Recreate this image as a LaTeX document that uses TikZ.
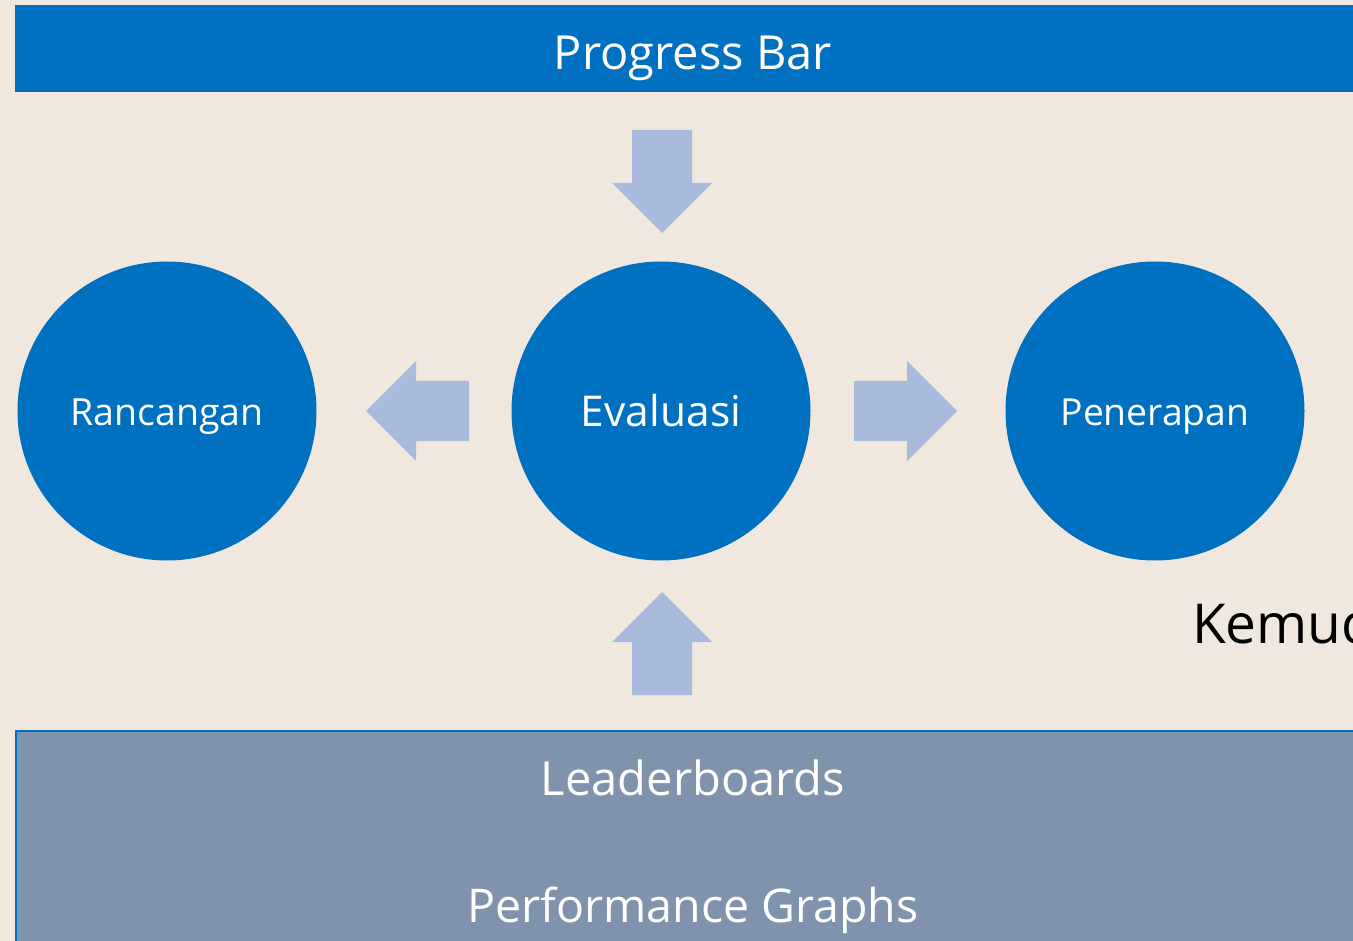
\documentclass[tikz,border=0pt]{standalone}
\usepackage{fontspec}
\setmainfont{Open Sans}
\usepackage{tikz}
\definecolor{bgbeige}{HTML}{F0E8DF}
\definecolor{mainblue}{HTML}{0070C0}
\definecolor{paleblue}{HTML}{A9BBDC}
\definecolor{slateblue}{HTML}{8093AC}
\tikzset{
stage/.style={
  circle,
  fill=mainblue,
  minimum size=299pt,
  inner sep=0pt
},
stagetext/.style={anchor=base,inner sep=0pt,text=white,font=\fontsize{37.5}{44}\selectfont},
bartext/.style={anchor=base,inner sep=0pt,text=white,font=\fontsize{47}{56}\selectfont},
blockarrow/.style={fill=paleblue}
}
\begin{document}
\begin{tikzpicture}[x=1pt,y=-1pt]
\useasboundingbox (0,0) rectangle (1353,941);
\clip (0,0) rectangle (1353,941);
\fill[bgbeige] (0,0) rectangle (1353,941);
% top and bottom bars
\fill[mainblue] (15,5) rectangle (1400,92);
\node[bartext] (bar) at (693,70) {Progress Bar};
\draw[mainblue,line width=2pt,fill=slateblue] (16,731) rectangle (1400,1000);
\node[bartext] (lead) at (693,795) {Leaderboards};
\node[bartext,font=\fontsize{46.5}{56}\selectfont] (perf) at (693,922) {Performance Graphs};
% the three stages
\node[stage] (ranc) at (167,411) {};
\node[stage] (eval) at (661,411) {};
\node[stage] (pene) at (1155,411) {};
\node[stagetext] (ranctext) at (ranc.center) [yshift=-14pt] {Rancangan};
\node[stagetext,font=\fontsize{42.5}{50}\selectfont] (evaltext) at (eval.center) [yshift=-16pt] {Evaluasi};
\node[stagetext,font=\fontsize{37.3}{44}\selectfont] (penetext) at (pene.center) [yshift=-14pt] {Penerapan};
\node[anchor=base west,inner sep=0pt,font=\fontsize{55}{66}\selectfont] (kemu) at (1192,643) {Kemudian};
% block arrows, given by tip and direction
\coordinate (tipdown) at (662,233);
\coordinate (tipup) at (662,592);
\coordinate (tipleft) at (366,411);
\coordinate (tipright) at (957,411);
\foreach \tip/\ang in {tipdown/-90,tipup/90,tipleft/180,tipright/0}
{
  \begin{scope}[shift={(\tip)},rotate=\ang]
    \fill[blockarrow] (0,0) -- (-50,50) -- (-50,30) -- (-103,30) --
      (-103,-30) -- (-50,-30) -- (-50,-50) -- cycle;
  \end{scope}
}
\end{tikzpicture}
\end{document}
